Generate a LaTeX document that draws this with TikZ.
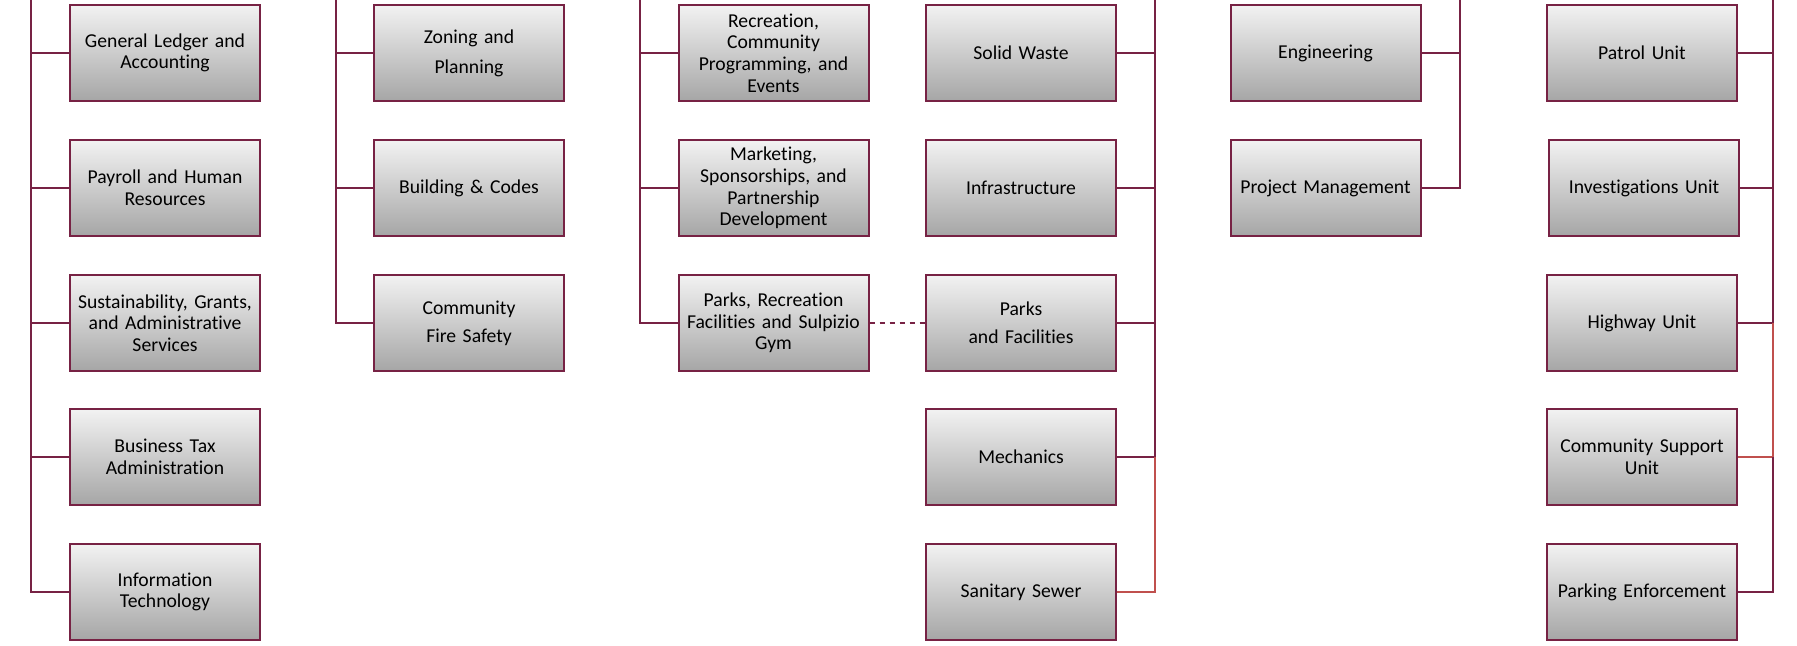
\documentclass[tikz,border=0pt]{standalone}
\usepackage{fontspec}
\setmainfont{Carlito}[Ligatures=NoCommon]
\usepackage{tikz}

\definecolor{maroon}{RGB}{119,34,68}
\definecolor{rosy}{RGB}{192,80,77}

\tikzset{
  unit/.style={draw=maroon, line width=1.2pt, top color=black!5,
    bottom color=black!35, minimum width=114pt, minimum height=57.6pt,
    text width=111pt, align=center, inner sep=1pt,
    font=\fontsize{11.8}{13}\selectfont},
  bus/.style={draw=maroon, line width=1.2pt},
  thinbus/.style={draw=rosy, line width=0.9pt}
}

\begin{document}
\begin{tikzpicture}[x=0.6pt, y=-0.6pt]
    \useasboundingbox (0,0) rectangle (1797,645);

    % finance
    \node[unit] (ledger) at (165,53) {General Ledger and\\Accounting};
    \node[unit] (payroll) at (165,188) {Payroll and Human\\Resources};
    \node[unit] (grants) at (165,323)
    {Sustainability, Grants,\\and Administrative\\Services};
    \node[unit] (biztax) at (165,457) {Business Tax\\Administration};
    \node[unit] (infotech) at (165,592) {Information\\Technology};
    \coordinate (fintop) at (31,0);

    % community development
    \node[unit] (zoning) at (469,53) {Zoning and\\[5pt]Planning};
    \node[unit] (codes) at (469,188) {Building \& Codes};
    \node[unit] (firesafety) at (469,323) {Community\\[4pt]Fire Safety};
    \coordinate (devtop) at (336,0);

    % recreation
    \node[unit] (events) at (773.5,53)
    {Recreation,\\Community\\Programming, and\\Events};
    \node[unit] (marketing) at (773.5,188)
    {Marketing,\\Sponsorships, and\\Partnership\\Development};
    \node[unit] (gym) at (773.5,323)
    {Parks, Recreation\\Facilities and Sulpizio\\Gym};
    \coordinate (rectop) at (639.5,0);

    % public works
    \node[unit] (waste) at (1021,53) {Solid Waste};
    \node[unit] (infra) at (1021,188) {Infrastructure};
    \node[unit] (parks) at (1021,323) {Parks\\[4pt]and Facilities};
    \node[unit] (mechanics) at (1021,457) {Mechanics};
    \node[unit] (sewer) at (1021,592) {Sanitary Sewer};
    \coordinate (pwtop) at (1155,0);

    % engineering
    \node[unit] (engineering) at (1325.5,53) {Engineering};
    \node[unit] (projects) at (1325.5,188) {Project Management};
    \coordinate (engtop) at (1460,0);

    % police
    \node[unit] (patrol) at (1642,53) {Patrol Unit};
    \node[unit] (investigations) at (1644,188) {Investigations Unit};
    \node[unit] (highway) at (1642,323) {Highway Unit};
    \node[unit] (support) at (1642,457) {Community Support\\Unit};
    \node[unit] (parking) at (1642,592) {Parking Enforcement};
    \coordinate (pdtop) at (1773,0);

    % buses on the left side
    \draw[bus] (fintop) |- (infotech.west);
    \foreach \n in {ledger,payroll,grants,biztax}
      \draw[bus] (\n.west) -- (\n.west -| fintop);
    \draw[bus] (devtop) |- (firesafety.west);
    \foreach \n in {zoning,codes}
      \draw[bus] (\n.west) -- (\n.west -| devtop);
    \draw[bus] (rectop) |- (gym.west);
    \foreach \n in {events,marketing}
      \draw[bus] (\n.west) -- (\n.west -| rectop);

    % buses on the right side
    \draw[bus] (pwtop) |- (mechanics.east);
    \foreach \n in {waste,infra,parks}
      \draw[bus] (\n.east) -- (\n.east -| pwtop);
    \draw[thinbus] (mechanics.east -| pwtop) |- (sewer.east);
    \draw[bus] (engtop) |- (projects.east);
    \draw[bus] (engineering.east) -- (engineering.east -| engtop);
    \draw[bus] (pdtop) |- (highway.east);
    \foreach \n in {patrol,investigations}
      \draw[bus] (\n.east) -- (\n.east -| pdtop);
    \draw[thinbus] (highway.east -| pdtop) |- (support.east);
    \draw[bus] (support.east -| pdtop) |- (parking.east);

    \draw[bus, line width=0.9pt, dashed] (gym.east) -- (parks.west);
\end{tikzpicture}
\end{document}
